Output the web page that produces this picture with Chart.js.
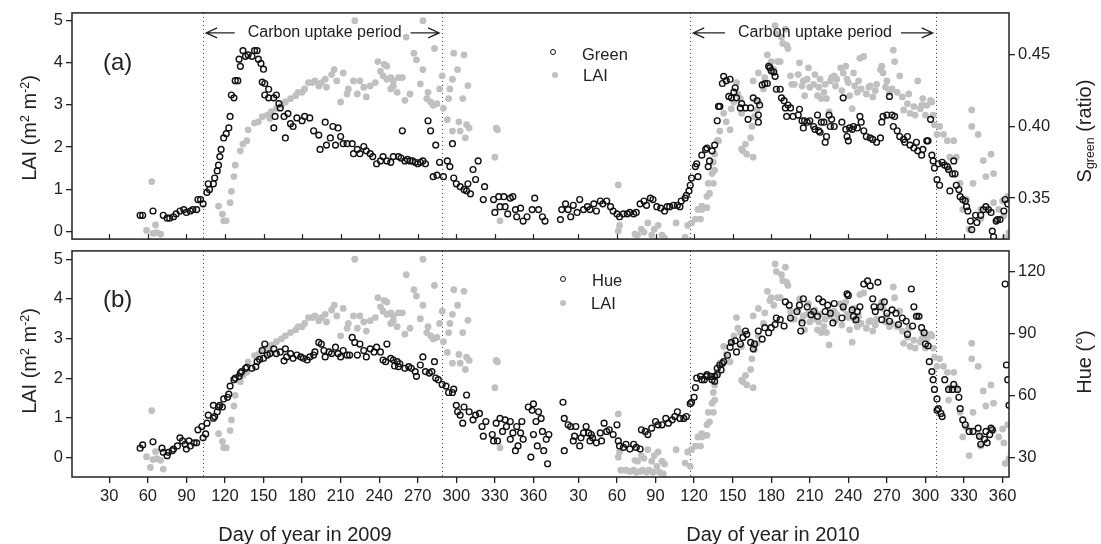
<!DOCTYPE html>
<html>
<head>
<meta charset="utf-8">
<script src="https://cdn.jsdelivr.net/npm/chart.js@4.4.0/dist/chart.umd.min.js"></script>
<style>
    body { margin: 0; width: 1101px; height: 544px; overflow: hidden; position: relative; background: #fff;
           font-family: "Liberation Sans", Arial, sans-serif; color: #222; }
    canvas { position: absolute; left: 0; }
    #chartA { top: 0; }
    #chartB { top: 238px; }
    .lbl { position: absolute; white-space: nowrap; line-height: 1; }
    .title { font-size: 20px; transform: translate(-50%, -50%) rotate(-90deg); }
    .xtitle { font-size: 20px; transform: translate(-50%, -50%); }
    .panel { font-size: 24px; transform: translateY(-50%); }
    .leg { font-size: 16.5px; transform: translateY(-50%); }
    .mk { position: absolute; border-radius: 50%; transform: translate(-50%, -50%); }
    .mk.open { width: 4px; height: 4px; border: 1.5px solid #111; }
    .mk.fill { width: 6px; height: 6px; background: #c0c0c0; }
    sup { font-size: 0.62em; vertical-align: 0.6em; line-height: 0; }
    sub { font-size: 0.62em; vertical-align: -0.25em; line-height: 0; }
</style>
</head>
<body>
<canvas id="chartA" width="1101" height="252"></canvas>
<canvas id="chartB" width="1101" height="306"></canvas>

<div class="lbl title" style="left:29px;top:128px">LAI (m<sup>2</sup> m<sup>-2</sup>)</div>
<div class="lbl title" style="left:29px;top:361px">LAI (m<sup>2</sup> m<sup>-2</sup>)</div>
<div class="lbl title" style="left:1084px;top:131px">S<sub>green</sub> (ratio)</div>
<div class="lbl title" style="left:1084px;top:362px">Hue (°)</div>
<div class="lbl xtitle" style="left:305px;top:534px">Day of year in 2009</div>
<div class="lbl xtitle" style="left:773px;top:534px">Day of year in 2010</div>
<div class="lbl panel" style="left:103px;top:62px">(a)</div>
<div class="lbl panel" style="left:103px;top:299px">(b)</div>

<span class="mk open" style="left:553px;top:52px"></span>
<div class="lbl leg" style="left:582px;top:54px">Green</div>
<span class="mk fill" style="left:555px;top:75px"></span>
<div class="lbl leg" style="left:583px;top:75px">LAI</div>
<span class="mk open" style="left:563px;top:279px"></span>
<div class="lbl leg" style="left:592px;top:280px">Hue</div>
<span class="mk fill" style="left:563px;top:303px"></span>
<div class="lbl leg" style="left:591px;top:303px">LAI</div>

<script>
// day index: 2009 day of year, 2010 days = 365 + day of year
const yearOffset = 365;
const tickDays = [30, 60, 90, 120, 150, 180, 210, 240, 270, 300, 330, 360];
const dayTicks = tickDays.concat(tickDays.map(d => d + yearOffset));
const uptakeStart = [103, 482];
const uptakeEnd = [289, 673];

const laiTicks = [0, 1, 2, 3, 4, 5];
const greenTicks = [0.35, 0.40, 0.45];
const hueTicks = [30, 60, 90, 120];

// S_green (ratio) observations [day, value]
const greenObs = [
    [54,.338],[56,.338],[64,.341],[72,.338],[75,.336],[77,.336],[80,.337],[82,.339],[85,.341],[88,.342],
    [90,.340],[93,.341],[95,.342],[98,.342],[99,.349],[101,.349],[103,.346],[106,.354],[107,.360],[108,.356],
    [111,.360],[112,.364],[114,.369],[115,.373],[116,.379],[117,.384],[119,.392],[121,.395],[123,.399],[124,.407],
    [125,.422],[127,.420],[128,.432],[130,.432],[131,.447],[132,.442],[134,.453],[136,.449],[138,.450],[141,.449],
    [143,.453],[145,.453],[146,.447],[148,.444],[149,.431],[150,.440],[151,.430],[151,.422],[154,.426],[154,.420],
    [158,.420],[158,.399],[159,.407],[160,.422],[162,.416],[163,.413],[166,.407],[167,.392],[169,.409],[171,.402],
    [173,.400],[176,.406],[180,.404],[182,.407],[186,.406],[189,.397],[193,.394],[194,.384],[198,.403],[199,.387],
    [202,.392],[204,.400],[206,.387],[208,.399],[210,.393],[212,.388],[215,.388],[219,.388],[220,.381],[223,.384],
    [225,.381],[228,.386],[230,.383],[233,.381],[235,.379],[238,.374],[241,.376],[243,.379],[246,.376],[249,.375],
    [251,.379],[255,.379],[257,.378],[258,.397],[260,.376],[262,.377],[264,.376],[266,.376],[268,.375],[270,.374],
    [272,.375],[274,.376],[276,.374],[278,.404],[280,.397],[282,.365],[284,.387],[285,.366],[287,.375],[290,.365],
    [293,.376],[295,.372],[297,.388],[298,.364],[300,.360],[303,.358],[306,.356],[308,.355],[309,.360],[311,.353],
    [313,.370],[315,.363],[317,.376],[321,.349],[322,.358],[329,.349],[330,.340],[333,.351],[334,.344],[337,.351],
    [338,.344],[340,.339],[342,.350],[344,.351],[346,.342],[347,.337],[350,.343],[352,.334],[355,.337],[359,.342],
    [361,.350],[364,.342],[367,.337],[369,.334],
    [381,.335],[382,.342],[385,.346],[387,.342],[389,.337],[391,.345],[394,.340],[396,.349],[399,.342],[402,.344],
    [404,.342],[407,.346],[409,.341],[412,.348],[414,.346],[417,.348],[420,.344],[422,.341],[425,.339],[427,.337],
    [430,.339],[433,.339],[435,.340],[438,.339],[440,.340],[443,.346],[446,.348],[448,.345],[451,.350],[453,.349],
    [456,.344],[459,.343],[462,.341],[464,.344],[466,.344],[469,.345],[472,.345],[474,.344],[475,.348],[478,.350],
    [479,.352],[481,.355],[482,.359],[483,.364],[486,.372],[487,.374],[488,.365],[491,.380],[494,.384],[495,.385],
    [496,.372],[497,.376],[499,.383],[501,.387],[503,.404],[504,.414],[505,.414],[507,.430],[508,.435],[510,.432],
    [512,.421],[513,.433],[514,.420],[516,.424],[517,.427],[518,.420],[521,.413],[522,.416],[525,.413],[527,.405],
    [529,.413],[531,.420],[534,.418],[535,.408],[535,.403],[536,.415],[538,.429],[540,.430],[542,.430],[543,.442],
    [544,.441],[545,.439],[547,.438],[548,.435],[549,.426],[552,.426],[553,.420],[555,.418],[556,.413],[557,.407],
    [558,.415],[560,.413],[562,.407],[566,.408],[567,.412],[569,.404],[570,.399],[571,.404],[573,.403],[575,.404],
    [578,.400],[579,.398],[581,.408],[582,.397],[583,.396],[584,.403],[586,.403],[587,.389],[588,.393],[590,.408],
    [591,.400],[592,.405],[594,.400],[600,.403],[601,.420],[603,.398],[604,.393],[605,.390],[606,.399],[608,.398],
    [609,.400],[612,.399],[614,.407],[615,.403],[617,.397],[619,.393],[622,.392],[624,.391],[627,.389],[630,.392],
    [631,.403],[632,.407],[635,.408],[637,.421],[639,.408],[640,.400],[641,.407],[643,.397],[645,.393],[648,.391],
    [649,.389],[651,.393],[653,.387],[656,.385],[658,.389],[659,.383],[662,.380],[663,.384],[666,.390],[667,.390],
    [669,.405],[670,.380],[671,.376],[672,.371],[674,.363],[675,.374],[676,.359],[678,.375],[680,.373],[682,.372],
    [683,.370],[684,.355],[686,.367],[687,.376],[688,.367],[689,.359],[691,.356],[692,.351],[694,.349],[696,.348],
    [697,.344],[698,.341],[700,.334],[701,.328],[704,.338],[705,.333],[708,.338],[710,.342],[712,.344],[714,.342],
    [716,.340],[717,.327],[718,.323],[720,.334],[721,.335],[723,.335],[726,.341],[727,.349],[729,.346]
];

// Hue (degrees) observations [day, value]
const hueObs = [
    [54,34.5],[56,36.1],[64,37.6],[71,34.5],[72,32.5],[75,30.9],[76,32.5],[79,33.3],[80,34.1],[83,35.6],
    [85,39.5],[87,38.0],[89,36.4],[90,34.1],[92,38.0],[93,35.6],[96,37.1],[98,37.1],[99,43.4],[102,45.0],
    [103,39.5],[105,41.4],[106,46.6],[107,50.5],[111,49.0],[111,55.2],[112,49.8],[114,52.1],[115,54.4],[116,55.2],
    [118,54.4],[119,58.3],[122,59.1],[123,60.6],[124,64.5],[127,67.6],[128,68.4],[131,69.2],[132,70.8],[133,71.5],
    [136,73.1],[137,73.6],[141,73.1],[144,73.9],[145,76.3],[147,77.4],[149,81.7],[150,77.9],[151,84.8],[153,79.5],
    [155,80.2],[158,82.5],[160,80.2],[163,81.0],[166,76.7],[167,82.5],[168,78.6],[171,80.2],[173,77.9],[176,79.5],
    [179,78.6],[181,77.9],[184,77.1],[186,78.6],[189,79.5],[190,81.0],[193,85.6],[195,84.8],[197,81.7],[198,78.6],
    [201,81.0],[203,80.2],[206,83.3],[208,80.2],[210,78.6],[212,81.7],[215,79.5],[217,79.5],[219,88.0],[221,85.6],
    [223,79.5],[225,84.8],[228,81.7],[230,78.6],[233,82.5],[236,81.0],[238,83.3],[241,81.0],[243,77.1],[245,76.3],
    [246,84.8],[249,77.9],[251,77.1],[252,74.2],[254,76.3],[255,73.9],[256,75.3],[260,73.1],[263,73.9],[265,73.1],
    [268,71.5],[269,69.2],[272,74.7],[274,78.6],[276,71.5],[279,70.8],[281,71.5],[283,76.3],[284,68.4],[286,67.6],
    [289,65.3],[292,64.5],[294,61.4],[297,61.4],[298,63.0],[300,55.2],[301,52.1],[303,50.5],[305,46.6],[306,54.4],
    [308,60.2],[310,52.1],[313,48.2],[315,50.5],[318,51.3],[320,45.0],[321,40.3],[323,47.4],[328,41.1],[329,38.0],
    [331,46.6],[332,38.0],[334,48.9],[336,42.6],[338,48.2],[339,45.0],[342,47.4],[342,38.8],[344,41.9],[346,33.3],
    [347,45.0],[348,35.6],[350,41.9],[351,47.4],[352,38.8],[356,54.4],[358,30.2],[359,52.8],[360,55.9],[360,41.1],
    [362,47.4],[363,35.6],[364,52.1],[366,48.9],[367,42.6],[368,33.3],[370,38.8],[371,27.0],[372,41.1],
    [383,56.7],[384,33.3],[384,48.9],[387,45.8],[389,45.0],[391,38.0],[392,40.3],[393,45.0],[396,35.6],[397,39.5],
    [399,41.9],[401,45.0],[403,41.9],[404,38.0],[405,41.1],[406,39.5],[409,37.1],[412,41.9],[413,38.0],[415,46.6],
    [417,42.6],[419,43.4],[422,41.1],[425,45.8],[426,38.0],[427,35.6],[430,34.9],[432,36.4],[435,34.1],[438,36.4],
    [440,34.9],[443,34.1],[444,43.4],[447,42.6],[449,41.1],[452,44.2],[455,47.4],[457,45.8],[460,45.8],[463,48.9],
    [465,46.6],[468,48.2],[470,49.8],[472,52.1],[474,48.9],[477,48.9],[479,49.8],[482,56.0],[483,56.7],[485,59.1],
    [486,63.8],[487,68.4],[490,69.2],[491,67.6],[493,67.6],[495,70.0],[495,69.2],[498,69.2],[499,67.6],[501,66.9],
    [501,69.2],[503,70.0],[503,73.1],[505,74.7],[506,72.3],[507,75.4],[508,76.3],[511,79.4],[513,83.3],[514,85.6],
    [517,86.4],[518,81.0],[521,84.8],[523,88.0],[525,91.1],[526,89.5],[529,85.6],[531,82.5],[532,84.8],[535,91.1],
    [538,87.2],[540,92.7],[543,90.3],[545,92.7],[548,94.2],[549,97.4],[552,96.6],[555,93.5],[556,105.2],[559,103.6],
    [560,97.4],[565,100.5],[567,103.6],[568,91.1],[569,95.0],[570,106.7],[573,102.8],[576,99.0],[578,100.5],[581,98.2],
    [582,106.7],[585,105.2],[587,100.5],[589,103.6],[591,99.7],[593,95.0],[594,104.4],[600,97.4],[601,102.8],[604,109.0],
    [605,108.3],[608,101.3],[609,98.2],[611,96.6],[612,100.5],[614,102.8],[617,113.8],[620,115.3],[622,112.9],[624,106.7],
    [625,102.8],[626,100.5],[628,114.6],[630,102.8],[631,96.6],[633,105.2],[635,99.7],[637,95.8],[639,101.3],[642,99.7],
    [644,94.2],[647,97.4],[650,95.8],[651,89.5],[654,111.4],[655,93.5],[656,102.8],[658,98.2],[660,98.2],[662,92.7],
    [664,90.3],[665,84.8],[667,84.0],[668,76.3],[670,71.5],[671,67.6],[672,62.9],[674,58.3],[674,52.8],[675,53.6],
    [677,51.3],[678,49.8],[680,67.6],[683,62.9],[686,62.9],[687,65.3],[690,62.9],[691,59.1],[692,53.6],[694,48.2],
    [696,45.8],[699,42.6],[702,42.6],[706,44.2],[707,40.3],[708,36.4],[711,38.8],[712,42.6],[713,37.1],[715,41.1],
    [716,44.2],[717,43.4],[727,113.8],[728,74.7],[729,67.6],[730,55.2]
];

// LAI (m2 m-2) observations [day, value], same in both panels
const laiObs = [
    [59,0.02],[62,-0.25],[63,1.18],[64,-0.05],[66,0.15],[67,-0.03],[70,-0.07],[72,-0.29],
    [115,0.60],[118,0.41],[119,0.25],[121,0.25],[124,0.68],[125,0.95],[127,1.30],[128,1.57],[132,1.91],[134,2.07],
    [137,2.15],[138,2.41],[143,2.57],[146,2.60],[149,2.72],[153,2.76],[155,2.68],[156,2.84],[160,2.92],[164,2.99],
    [167,3.07],[171,3.15],[175,3.22],[177,3.30],[180,3.30],[182,3.38],[185,3.53],[188,3.53],[190,3.57],[193,3.45],
    [195,3.53],[198,3.61],[199,3.42],[203,3.72],[205,3.84],[207,3.57],[210,3.07],[212,3.76],[215,3.26],[216,3.38],
    [220,3.57],[221,5.00],[223,3.26],[225,3.57],[228,3.42],[230,3.19],[233,3.45],[237,3.53],[239,4.03],[241,3.80],
    [243,3.69],[244,3.96],[246,3.92],[246,3.61],[249,3.65],[249,3.38],[251,3.45],[251,3.57],[254,3.30],[255,3.65],
    [258,3.65],[260,3.11],[261,4.61],[264,3.26],[267,4.23],[269,4.07],[272,3.50],[274,3.84],[274,5.00],[277,3.15],
    [278,3.30],[280,3.07],[282,2.99],[283,4.34],[285,3.03],[287,3.38],[289,3.69],[290,2.92],[293,2.65],[294,3.15],
    [295,3.38],[297,2.38],[297,3.61],[298,4.23],[301,3.84],[302,2.60],[303,2.38],[305,3.15],[306,4.19],[307,2.22],
    [308,2.53],[309,3.46],[310,2.45],[330,1.76],[331,2.45],[332,2.41],[334,0.25],
    [426,1.10],[426,0.01],[427,0.14],[428,-0.32],[432,-0.32],[435,-0.35],[438,-0.32],[439,-0.07],[440,-0.37],[441,-0.09],
    [443,-0.35],[444,0.05],[445,-0.32],[446,-0.02],[448,-0.37],[449,0.20],[450,-0.32],[452,-0.09],[453,-0.37],[454,0.05],
    [456,-0.22],[457,0.14],[458,-0.37],[460,-0.09],[461,-0.41],[462,-0.16],[471,0.20],[478,-0.14],[480,0.14],[482,-0.22],
    [483,0.20],[486,0.29],[488,0.52],[490,0.29],[491,0.60],[491,0.52],[495,0.56],[495,0.83],[496,1.14],[497,0.90],
    [499,1.37],[500,1.14],[500,1.64],[501,1.45],[501,1.83],[503,2.15],[504,2.15],[505,2.38],[508,2.80],[510,2.60],
    [513,2.41],[514,2.91],[516,3.07],[518,3.53],[519,3.26],[521,3.15],[522,2.80],[522,1.95],[523,1.91],[525,2.07],
    [526,1.83],[529,2.22],[530,2.49],[531,1.76],[531,3.57],[532,2.72],[534,2.88],[535,3.07],[535,3.76],[539,3.38],
    [540,3.65],[542,4.19],[544,3.96],[545,4.03],[547,3.84],[548,4.88],[549,4.69],[550,4.03],[552,4.03],[553,4.61],
    [554,4.46],[556,4.80],[557,4.42],[558,4.34],[560,3.69],[561,3.49],[563,3.49],[566,3.72],[567,4.00],[569,3.45],
    [570,3.57],[571,3.22],[573,3.61],[574,3.88],[575,3.42],[578,3.49],[579,3.72],[581,3.22],[582,3.42],[583,3.61],
    [584,3.15],[586,3.30],[587,3.49],[588,3.15],[590,2.84],[591,3.57],[592,3.65],[594,3.69],[595,3.45],[596,3.61],
    [599,3.88],[600,3.34],[601,3.76],[603,3.92],[604,3.61],[605,3.53],[606,3.22],[608,2.91],[609,3.76],[610,3.45],
    [612,3.30],[613,3.57],[614,4.11],[615,3.38],[617,4.15],[619,3.26],[621,3.42],[622,3.45],[624,3.19],[626,3.34],
    [627,3.49],[630,3.84],[631,3.92],[632,3.76],[634,3.42],[635,3.57],[637,3.30],[639,3.38],[640,4.30],[641,4.03],
    [643,3.30],[645,3.69],[647,3.19],[648,2.88],[651,3.03],[652,3.26],[653,2.80],[656,2.96],[657,2.76],[659,3.57],
    [661,2.91],[662,2.99],[663,3.15],[665,2.76],[666,2.99],[669,3.11],[670,3.07],[671,2.76],[672,2.53],[674,2.30],
    [676,2.49],[679,2.30],[682,2.15],[683,1.45],[684,1.76],[687,2.15],[689,1.76],[692,1.14],[694,0.52],[697,0.76],
    [699,0.05],[701,2.49],[701,2.88],[702,1.14],[706,2.30],[708,0.52],[708,0.29],[710,1.68],[712,1.30],[716,1.83],
    [718,0.68],[718,1.37],[722,0.52],[725,0.72],[726,0.37],[727,-0.15],[729,0.83],[730,-0.03]
];

const fontFamily = '"Liberation Sans", Arial, sans-serif';
const ink = '#222';

function toPoints(obs) {
    return obs.map(p => ({ x: p[0], y: p[1] }));
}

function yAxis(side, min, max, ticks, format) {
    return {
        position: side,
        min: min,
        max: max,
        afterFit: s => { s.width = side === 'left' ? 72 : 92; },
        afterBuildTicks: s => { s.ticks = ticks.map(v => ({ value: v })); },
        ticks: { color: ink, font: { family: fontFamily, size: 16.5 }, padding: 3, callback: format },
        grid: { drawOnChartArea: false, drawTicks: true, tickLength: 6, color: ink, lineWidth: 1.3 },
        border: { display: false }
    };
}

function circleSet(label, obs) {
    return {
        label: label,
        data: toPoints(obs),
        yAxisID: 'yR',
        pointStyle: 'circle',
        pointRadius: 2.9,
        borderWidth: 1.4,
        borderColor: '#111',
        backgroundColor: 'rgba(0,0,0,0)'
    };
}

function laiSet() {
    return {
        label: 'LAI',
        data: toPoints(laiObs),
        yAxisID: 'yL',
        pointStyle: 'circle',
        pointRadius: 3.4,
        borderWidth: 0,
        backgroundColor: '#c0c0c0'
    };
}

function drawArrow(ctx, from, to, y) {
    const dir = Math.sign(to - from);
    ctx.beginPath();
    ctx.moveTo(from, y);
    ctx.lineTo(to, y);
    ctx.moveTo(to - dir * 11, y - 5);
    ctx.lineTo(to, y);
    ctx.lineTo(to - dir * 11, y + 5);
    ctx.stroke();
}

const panelDecor = {
    id: 'panelDecor',
    beforeDatasetsDraw(chart) {
        const { ctx, chartArea: a, scales: { x } } = chart;
        ctx.save();
        ctx.strokeStyle = '#333';
        ctx.lineWidth = 1;
        ctx.setLineDash([1, 3]);
        uptakeStart.concat(uptakeEnd).forEach(d => {
            const px = Math.round(x.getPixelForValue(d)) + 0.5;
            ctx.beginPath();
            ctx.moveTo(px, a.top);
            ctx.lineTo(px, a.bottom);
            ctx.stroke();
        });
        ctx.restore();
    },
    afterDraw(chart, args, opts) {
        const { ctx, chartArea: a, scales: { x } } = chart;
        ctx.save();
        ctx.strokeStyle = ink;
        ctx.lineWidth = 1.5;
        ctx.strokeRect(a.left, a.top, a.right - a.left, a.bottom - a.top);

        if (opts.innerTicks) {
            ctx.lineWidth = 1.2;
            dayTicks.forEach(d => {
                const px = Math.round(x.getPixelForValue(d)) + 0.5;
                ctx.beginPath();
                ctx.moveTo(px, a.bottom);
                ctx.lineTo(px, a.bottom - 5);
                ctx.stroke();
            });
        }

        if (opts.arrows) {
            const y = a.top + 20;
            ctx.font = '16px ' + fontFamily;
            ctx.fillStyle = ink;
            ctx.textAlign = 'center';
            ctx.textBaseline = 'middle';
            ctx.lineWidth = 1.3;
            const text = 'Carbon uptake period';
            const w = ctx.measureText(text).width;
            uptakeStart.forEach((d, i) => {
                const x0 = x.getPixelForValue(d);
                const x1 = x.getPixelForValue(uptakeEnd[i]);
                const mid = (x0 + x1) / 2 + 2;
                ctx.fillText(text, mid, y);
                drawArrow(ctx, mid - w / 2 - 13, x0 + 3, y);
                drawArrow(ctx, mid + w / 2 + 9, x1 - 3, y);
            });
        }
        ctx.restore();
    }
};

const xCommon = {
    type: 'linear',
    min: 1,
    max: 730,
    afterBuildTicks: s => { s.ticks = dayTicks.map(v => ({ value: v })); }
};

new Chart(document.getElementById('chartA'), {
    type: 'scatter',
    data: { datasets: [circleSet('Green', greenObs), laiSet()] },
    options: {
        responsive: false,
        animation: false,
        events: [],
        layout: { padding: { top: 12, bottom: 8, left: 0, right: 0 } },
        plugins: { legend: { display: false }, tooltip: { enabled: false },
                   panelDecor: { innerTicks: true, arrows: true } },
        scales: {
            x: Object.assign({ display: false }, xCommon),
            yL: yAxis('left', -0.185, 5.185, laiTicks, v => v),
            yR: yAxis('right', 0.3214, 0.4793, greenTicks, v => v.toFixed(2))
        }
    },
    plugins: [panelDecor]
});

new Chart(document.getElementById('chartB'), {
    type: 'scatter',
    data: { datasets: [circleSet('Hue', hueObs), laiSet()] },
    options: {
        responsive: false,
        animation: false,
        events: [],
        layout: { padding: { top: 6, bottom: 0, left: 0, right: 0 } },
        plugins: { legend: { display: false }, tooltip: { enabled: false },
                   panelDecor: { innerTicks: false, arrows: false } },
        scales: {
            x: Object.assign({
                afterFit: s => { s.height = 67; },
                ticks: { color: ink, font: { family: fontFamily, size: 16.5 }, padding: 4,
                         autoSkip: false, maxRotation: 0,
                         callback: v => v > yearOffset ? v - yearOffset : v },
                grid: { drawOnChartArea: false, drawTicks: true, tickLength: 6, color: ink, lineWidth: 1.3 },
                border: { display: false }
            }, xCommon),
            yL: yAxis('left', -0.49, 5.21, laiTicks, v => v),
            yR: yAxis('right', 20.6, 129.8, hueTicks, v => v)
        }
    },
    plugins: [panelDecor]
});
</script>
</body>
</html>
